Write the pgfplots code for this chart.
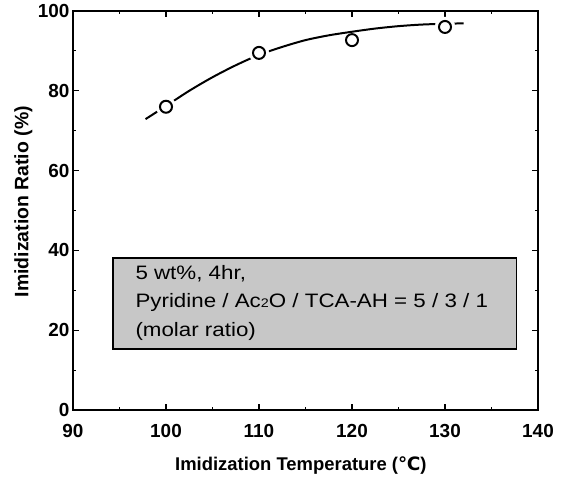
\documentclass[border=0pt]{standalone}
\usepackage{graphicx}
\usepackage{pgfplots}
\pgfplotsset{compat=1.18}
\usepackage{fontspec}
\setmainfont{Liberation Sans}
\newfontfamily\symfont{DejaVu Sans}
% box text is set a little wider than the regular face
\newcommand{\wide}[1]{\scalebox{1.15}[1]{#1}}

\begin{document}
\begin{tikzpicture}
\begin{axis}[
  scale only axis,
  width=465bp, height=399bp,
  xmin=90, xmax=140, ymin=0, ymax=100,
  xtick={90,100,...,140}, ytick={0,20,...,100},
  minor xtick={95,105,...,135}, minor ytick={10,30,...,90},
  tick align=inside,
  major tick length=6.5bp, minor tick length=3.5bp,
  axis line style={line width=1.6pt},
  every tick/.style={black, line width=1.2pt},
  /pgf/number format/assume math mode=true,
  tick label style={font=\fontsize{19}{19}\selectfont\bfseries},
  xticklabel style={yshift=-11bp},
  xlabel style={at={(axis description cs:0.49,-0.138)}, anchor=center,
    font=\fontsize{18.5}{18.5}\selectfont\bfseries},
  ylabel style={at={(axis description cs:-0.107,0.522)}, anchor=center,
    font=\fontsize{19.5}{19.5}\selectfont\bfseries},
  xlabel={Imidization Temperature ({\symfont\bfseries ℃})},
  ylabel={Imidization Ratio (\%)},
]
% condition box
\draw[line width=1.3pt, fill=black!22] (axis cs:94.3,15.3) rectangle (axis cs:137.7,38.1);
\begin{scope}[every node/.style={anchor=base west, inner sep=0pt, font=\fontsize{19.5}{19.5}\selectfont}]
\node at (axis cs:96.7,32.8) {\wide{5 wt\%, 4hr,}};
\node at (axis cs:96.7,25.6) {\wide{Pyridine / Ac{\fontsize{12.5}{12.5}\selectfont 2}O / TCA-AH = 5 / 3 / 1}};
\node at (axis cs:96.7,18.3) {\wide{(molar ratio)}};
\end{scope}

% fitted trend
\addplot[black, line width=2pt, smooth] coordinates {
  (97.8,72.9) (100,76.2) (102.5,80.0) (105,83.4) (107.5,86.4) (110,89.0)
  (112.5,91.0) (115,92.7) (117.5,93.9) (120,94.8) (122.5,95.6) (125,96.2)
  (127.5,96.6) (130,96.8) (132,96.9)
};
% white clearance around the points that sit on the curve
\addplot[only marks, mark=*, mark size=10bp, draw=white, fill=white] coordinates {
  (100,76) (110,89.5) (130,96)
};
% measured points
\addplot[only marks, mark=o, mark size=6bp, line width=2pt, black] coordinates {
  (100,76) (110,89.5) (120,92.7) (130,96)
};
\end{axis}
\pgfresetboundingbox
\path[use as bounding box] ([shift={(-73bp,-72bp)}]current axis.south west)
  rectangle ([shift={(28bp,11bp)}]current axis.north east);
\end{tikzpicture}
\end{document}
